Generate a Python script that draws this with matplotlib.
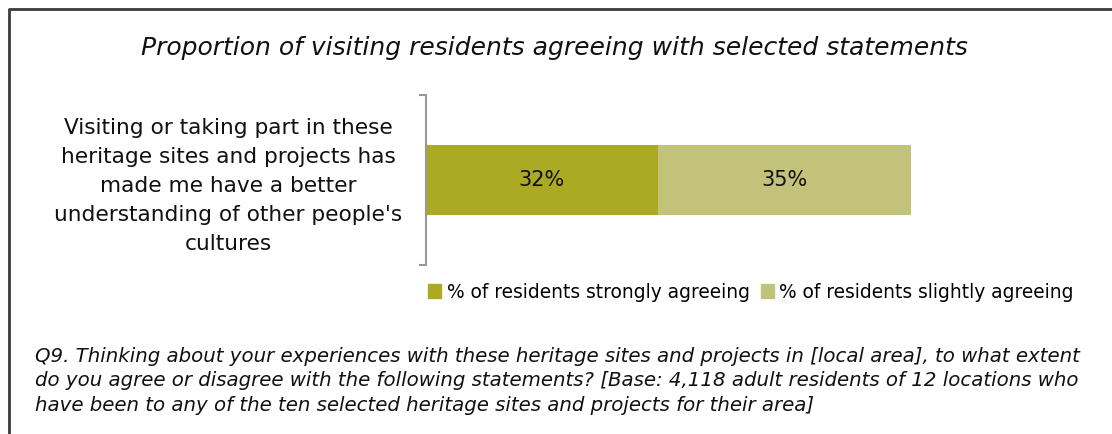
import matplotlib.pyplot as plt
from matplotlib.lines import Line2D
from matplotlib.patches import Patch

# survey result for the one statement
statement = ("Visiting or taking part in these\nheritage sites and projects has\n"
             "made me have a better\nunderstanding of other people's\ncultures")
series_names = ["% of residents strongly agreeing", "% of residents slightly agreeing"]
strongly = [32]
slightly = [35]
colors = ["#ABAA22", "#C2C27A"]

title = "Proportion of visiting residents agreeing with selected statements"
note = ("Q9. Thinking about your experiences with these heritage sites and projects in [local area], to what extent\n"
        "do you agree or disagree with the following statements? [Base: 4,118 adult residents of 12 locations who\n"
        "have been to any of the ten selected heritage sites and projects for their area]")

W, H = 1112, 434
fig = plt.figure(figsize=(W / 100, H / 100), dpi=100)

def fx(px):
    return px / W

def fy(py):
    return 1 - py / H

# frame around the chart (left and top edges visible)
fig.add_artist(Line2D([fx(9), fx(9), fx(W)], [fy(H), fy(9), fy(9)],
                      color="#3a3a3a", lw=2, transform=fig.transFigure))

ax = fig.add_axes([fx(426), fy(265), fx(1078) - fx(426), fy(95) - fy(265)])
y = [0]
ax.barh(y, strongly, height=0.41, color=colors[0], label=series_names[0])
ax.barh(y, slightly, left=strongly, height=0.41, color=colors[1], label=series_names[1])

for s, l in zip(strongly, slightly):
    ax.text(s / 2, 0, f"{s}%", ha="center", va="center", fontsize=15, color="#111111")
    ax.text(s + l / 2, 0, f"{l}%", ha="center", va="center", fontsize=15, color="#111111")

ax.set_xlim(0, 90)
ax.set_ylim(-0.5, 0.5)
for side in ["top", "right", "bottom"]:
    ax.spines[side].set_visible(False)
ax.spines["left"].set_color("#999999")
ax.spines["left"].set_linewidth(1.5)
ax.set_xticks([])
ax.set_yticks([-0.5, 0.5])
ax.set_yticklabels([])
ax.tick_params(axis="y", length=5, color="#999999", width=1.5)

fig.text(fx(228), fy(186), statement, ha="center", va="center", fontsize=15.6,
         linespacing=1.57, color="#111111")

fig.text(fx(554), fy(48), title, ha="center", va="center", fontsize=18,
         style="italic", color="#111111")

handles = [Patch(color=c) for c in colors]
fig.legend(handles, series_names, loc="center", bbox_to_anchor=(fx(751), fy(292)),
           ncol=2, frameon=False, fontsize=13.4, handlelength=0.7, handleheight=0.7,
           handletextpad=0.3, columnspacing=0.6)

fig.text(fx(35), fy(381), note, ha="left", va="center", fontsize=14.2,
         style="italic", linespacing=1.34, color="#111111")

fig.savefig("out.png", dpi=100)
